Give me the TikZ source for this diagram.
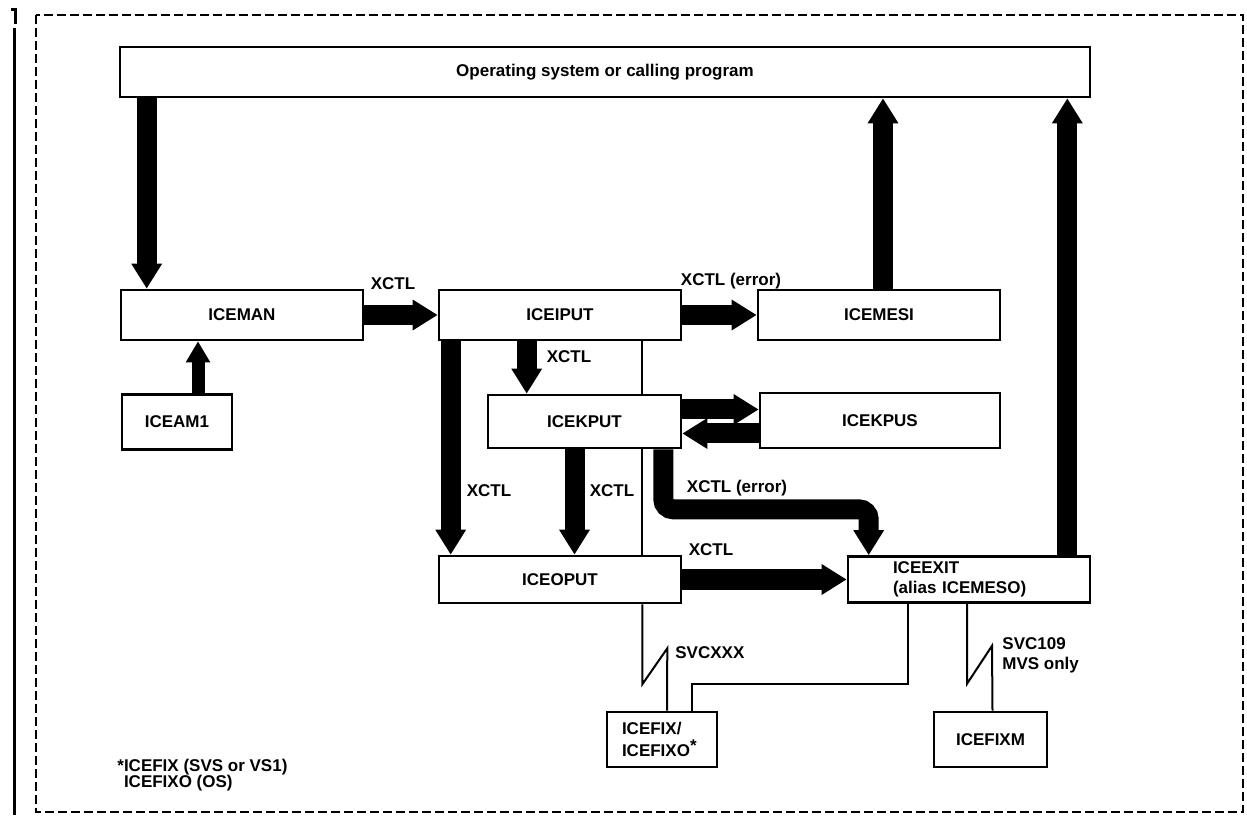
\documentclass[tikz,border=0pt]{standalone}
\usepackage{fontspec}
\setmainfont{Liberation Sans}
\usepackage{tikz}
\usetikzlibrary{arrows.meta,calc,positioning}

\begin{document}
\begin{tikzpicture}[x=.5pt,y=-.5pt,font=\bfseries\fontsize{8.5}{10}\selectfont,
    box/.style={draw,line width=1.3pt,fill=white,inner sep=0pt,minimum width=121pt,minimum height=25pt},
    smallbox/.style={box,minimum width=55pt,minimum height=27.5pt},
    fatarrow/.style={line width=10pt,-{Triangle[length=12.5pt,width=14.5pt]}},
    thinarrow/.style={line width=6.5pt,-{Triangle[length=10.5pt,width=11.5pt]}},
    wire/.style={line width=1pt},
    lbl/.style={inner sep=0pt}]
        \useasboundingbox (0,0) rectangle (1247,817);
        \draw[line width=1.4pt,dash pattern=on 4.5pt off 2pt] (36,15) rectangle (1243,812);
        \draw[line width=1.5pt] (11,10) -- (15,10) -- (15,24); \draw[line width=1.5pt] (14,28) -- (14,815);
        % modules
        \node[box,minimum width=485pt] (os) at (605,72) {Operating system or calling program};
        \node[box] (man) at (242,315) {ICEMAN};
        \node[smallbox] (am1) at (177,422) {ICEAM1};
        \node[box] (iput) at (560,315) {ICEIPUT};
        \node[box] (mesi) at (879,315) {ICEMESI};
        \node[box,minimum width=96.5pt,minimum height=26.5pt] (kput) at (584.5,421.5) {ICEKPUT};
        \node[box,minimum width=120pt,minimum height=27.5pt] (kpus) at (880,420.5) {ICEKPUS};
        \node[box,minimum height=23.5pt] (oput) at (560,579.5) {ICEOPUT};
        \node[box,minimum height=23pt,text width=76pt,align=left] (exit) at (969,579.5) {ICEEXIT\\(alias ICEMESO)};
        \node[smallbox,text width=40pt,align=left] (fix) at (662,739.5) {ICEFIX/\\[1pt]ICEFIXO\rlap{\raisebox{.6ex}{*}}};
        \node[smallbox,minimum width=56.5pt] (fixm) at (990.5,739.5) {ICEFIXM};
        % thick transfers
        \coordinate (mdn) at ([xshift=13.5pt]man.north west); \draw[fatarrow] (mdn |- os.south) -- (mdn);
        \coordinate (a1) at ([xshift=10.5pt]am1.north); \draw[thinarrow] (a1) -- (a1 |- man.south);
        \draw[fatarrow] (man.east) -- (iput.west);
        \draw[fatarrow] (iput.east) -- (mesi.west);
        \coordinate (mup) at ([xshift=2pt]mesi.north); \draw[fatarrow] (mup) -- (mup |- os.south);
        \coordinate (eup) at ([xshift=-12pt]exit.north east); \draw[fatarrow] (eup) -- (eup |- os.south);
        \coordinate (kdn) at ([xshift=20pt]kput.north west); \draw[fatarrow] (kdn |- iput.south) -- (kdn);
        \coordinate (odn) at ([xshift=6.5pt]oput.north west); \draw[fatarrow] (odn |- iput.south) -- (odn);
        \coordinate (kod) at ([xshift=-5pt]kput.south); \draw[fatarrow] (kod) -- (kod |- oput.north);
        \coordinate (ks1) at ([yshift=6pt]kput.east); \draw[fatarrow] (ks1) -- (ks1 -| kpus.west);
        \coordinate (ks2) at ([yshift=-6pt]kput.east); \draw[fatarrow] (ks2 -| kpus.west) -- (ks2);
        \draw[fatarrow] (oput.east) -- (exit.west);
        \coordinate (kx) at ([xshift=-9.5pt]kput.south east); \coordinate (ex) at ([xshift=11pt]exit.north west);
        \draw[fatarrow,rounded corners=5pt] (kx) -- ++(0,60) -| (ex);
        % supervisor calls
        \coordinate (vx) at ([xshift=-20pt]iput.south east);
        \draw[wire] (vx) -- (vx |- kput.north); \draw[wire] (vx |- kput.south) -- (vx |- oput.north);
        \coordinate (fxl) at ([xshift=2.5pt]fix.north); \coordinate (fxr) at ([xshift=15pt]fix.north);
        \draw[wire] (vx |- oput.south) -- ++(0,80) -- ++(25,-36) -- (fxl);
        \draw[wire] ([xshift=-30.5pt]exit.south) -- ++(0,80) -| (fxr);
        \draw[wire] ([xshift=-1pt]exit.south) -- ++(0,80) -- ++(25,-38) -- ([xshift=1pt]fixm.north);
        % labels
        \node[lbl] (l1) at (393,284) {XCTL};
        \node[lbl] (l2) at (731,281) {XCTL (error)};
        \node[lbl] (l3) at (569,357) {XCTL};
        \node[lbl] (l4) at (489,491) {XCTL};
        \node[lbl] (l5) at (612,491) {XCTL};
        \node[lbl] (l6) at (737,488) {XCTL (error)};
        \node[lbl] (l7) at (711,550) {XCTL};
        \node[lbl,anchor=west] (l8) at (675,653) {SVCXXX};
        \node[lbl,anchor=west,align=left] (l9) at (1002,655) {SVC109\\MVS only};
        \node[lbl,anchor=west,align=left] (note) at (117,775) {*ICEFIX (SVS or VS1)\\[-2pt]\phantom{*}ICEFIXO (OS)};
      \end{tikzpicture}
\end{document}
